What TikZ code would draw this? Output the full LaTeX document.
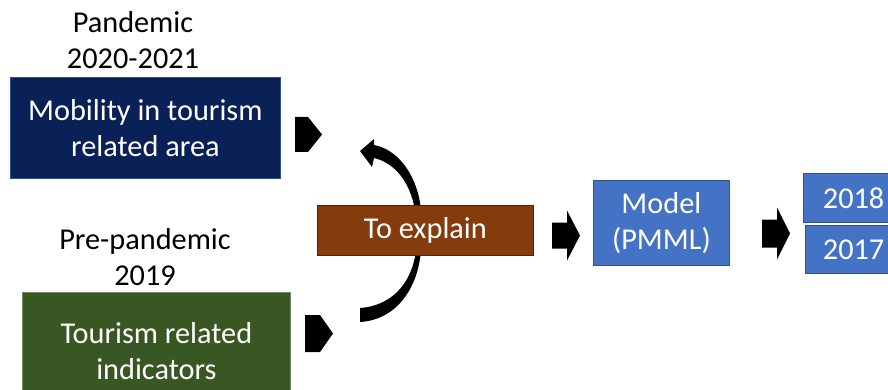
\documentclass[tikz,border=0pt]{standalone}
\usepackage{fontspec}
\setmainfont{Carlito}
\definecolor{navybg}{HTML}{0A2157}
\definecolor{greenbg}{HTML}{385723}
\definecolor{brownbg}{HTML}{843C0C}
\definecolor{bluebg}{HTML}{4472C4}
\definecolor{blueln}{HTML}{2F528F}
\begin{document}
\begin{tikzpicture}[x=1pt,y=-1pt,
  txt/.style={font=\fontsize{30.3}{36}\selectfont, align=center, inner sep=0pt},
  boxbase/.style={txt, text=white, draw=blueln, line width=0.8pt, anchor=north west},
  navybox/.style={boxbase, fill=navybg},
  greenbox/.style={boxbase, fill=greenbg, draw=greenbg!70!white},
  brownbox/.style={boxbase, fill=brownbg, draw=brownbg!60!black},
  bluebox/.style={boxbase, fill=bluebg},
  darkfill/.style={fill=black}]
\clip (0,0) rectangle (888,390);
\fill[white] (0,0) rectangle (888,390);

% labels
\node[txt] (pand) at (133,40) {Pandemic\\2020-2021};
\node[txt] (prep) at (145,257) {Pre-pandemic\\2019};

% boxes
\node[navybox, minimum width=270pt, minimum height=101pt] (mob) at (10,77) {Mobility in tourism\\related area};
\node[greenbox, minimum width=268pt, minimum height=118pt] (ind) at (22,292) {Tourism related\\indicators};
\node[bluebox, minimum width=136pt, minimum height=85pt] (model) at (593,180) {Model\\(PMML)};
\node[bluebox, minimum width=100pt, minimum height=49pt, text width=95pt, align=left] (y18) at (803,173) {\hspace*{17pt}2018};
\node[bluebox, minimum width=100pt, minimum height=48pt, text width=95pt, align=left] (y17) at (805,225) {\hspace*{15pt}2017};

% curved arrow (behind the "To explain" box)
\fill[darkfill] (421,210) .. controls (418,178) and (400,150) .. (374,145)
   -- (374,139) -- (360,151) -- (372,167) -- (374,158)
   .. controls (395,163) and (410,182) .. (415,210) -- cycle;
\fill[darkfill] (421,250) .. controls (418,290) and (395,320) .. (360,322)
   -- (360,308) .. controls (390,306) and (412,285) .. (416,250) -- cycle;

\node[brownbox, minimum width=216pt, minimum height=50pt] (expl) at (317,205) {To explain};

% chevrons
\fill[darkfill] (295,117) -- (308,117) -- (322,134.5) -- (308,152) -- (295,152) -- cycle;
\fill[darkfill] (305,315) -- (320,315) -- (333,333.5) -- (320,352) -- (305,352) -- cycle;

% block arrows
\fill[darkfill] (552,222.5) -- (567,222.5) -- (567,210.5) -- (580,235.5) -- (567,260.5) -- (567,248.5) -- (552,248.5) -- cycle;
\fill[darkfill] (762,219.5) -- (777,219.5) -- (777,207.5) -- (790,233.5) -- (777,259.5) -- (777,247.5) -- (762,247.5) -- cycle;
\end{tikzpicture}
\end{document}
